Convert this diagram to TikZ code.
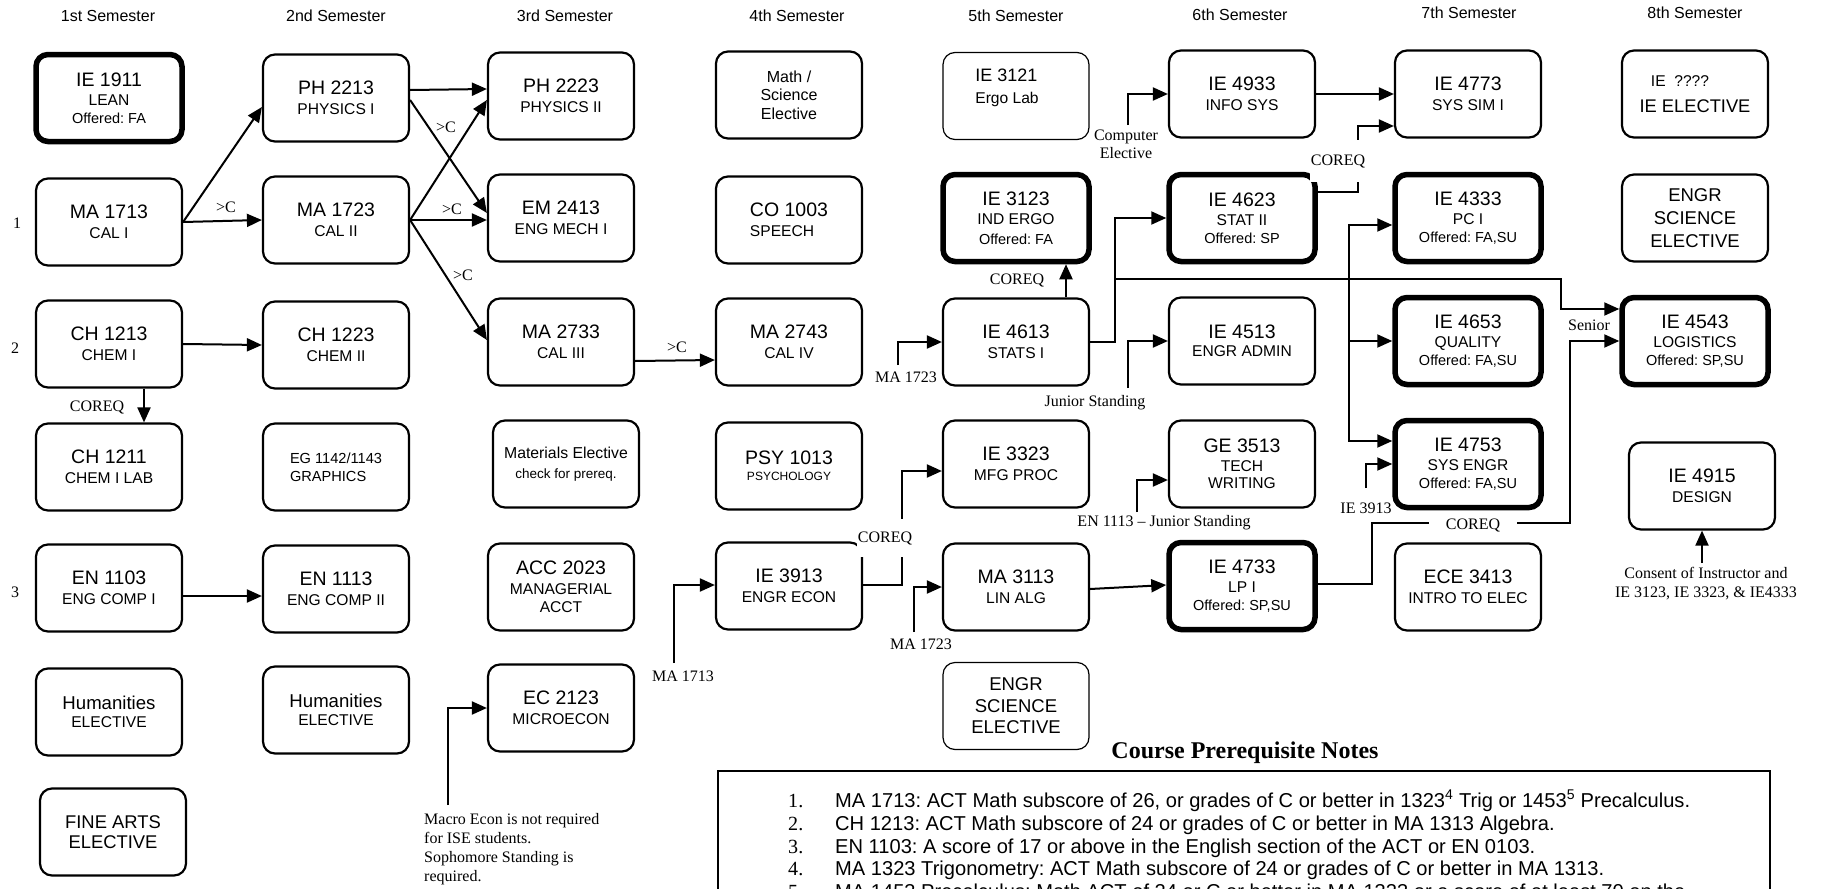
\documentclass[tikz,border=0pt]{standalone}
\usepackage{fontspec}
\setmainfont{Liberation Serif}
\setsansfont{Liberation Sans}
\usetikzlibrary{arrows.meta,calc}
\frenchspacing
\newcommand\sbt[1]{{\fontsize{15.6}{18}\selectfont #1}}
\newcommand\ofr[1]{{\fontsize{14.5}{17}\selectfont #1}}
\newcommand\fsz[1]{\fontsize{#1}{19.6}\selectfont}
\begin{document}
\begin{tikzpicture}[x=1pt,y=-1pt,
  crs/.style={draw, rounded corners=12pt, line width=2.2pt, minimum width=146pt, minimum height=87pt, inner sep=0pt, align=center, font=\sffamily\fontsize{19.5}{19.6}\selectfont},
  thk/.style={crs, line width=5.5pt},
  thn/.style={crs, line width=1.2pt},
  conn/.style={line width=2pt, -{Triangle[length=15pt,width=13pt]}},
  lbl/.style={font=\rmfamily\fontsize{16}{19}\selectfont, inner sep=1pt},
  gaplbl/.style={lbl, fill=white},
  hdr/.style={font=\sffamily\fontsize{16}{19}\selectfont, inner sep=0pt},
  ntxt/.style={font=\sffamily\fontsize{20.1}{22}\selectfont, inner sep=0pt, anchor=base west},
  nnum/.style={font=\rmfamily\fontsize{20.1}{22}\selectfont, inner sep=0pt, anchor=base west},
]
\useasboundingbox (0,0) rectangle (1824,889);
\fill[white] (0,0) rectangle (1824,889);

% ---------- semester headers ----------
\node[hdr] (h1) at (108,16) {1st Semester};
\node[hdr] (h2) at (336,16) {2nd Semester};
\node[hdr] (h3) at (565,16) {3rd Semester};
\node[hdr] (h4) at (797,16) {4th Semester};
\node[hdr] (h5) at (1016,16) {5th Semester};
\node[hdr] (h6) at (1240,14.5) {6th Semester};
\node[hdr] (h7) at (1469,13) {7th Semester};
\node[hdr] (h8) at (1695,13) {8th Semester};

% ---------- row numbers ----------
\node[lbl] (r1) at (17,223) {1};
\node[lbl] (r2) at (15,348) {2};
\node[lbl] (r3) at (15,592) {3};

% ---------- column 1 ----------
\node[thk] (ie1911) at (109,98) {IE 1911\\\sbt{LEAN}\\[-2pt]\ofr{Offered: FA}};
\node[crs] (ma1713) at (109,222) {MA 1713\\\sbt{CAL I}};
\node[crs] (ch1213) at (109,344) {CH 1213\\\sbt{CHEM I}};
\node[crs] (ch1211) at (109,467) {CH 1211\\\sbt{CHEM I LAB}};
\node[crs] (en1103) at (109,588) {EN 1103\\\sbt{ENG COMP I}};
\node[crs] (hum1) at (109,712) {\fsz{18.6}Humanities\\[-1.5pt]\sbt{ELECTIVE}};
\node[crs, font=\sffamily\fontsize{18.4}{20}\selectfont] (finearts) at (113,832) {FINE ARTS\\ELECTIVE};

% ---------- column 2 ----------
\node[crs] (ph2213) at (336,98) {PH 2213\\\sbt{PHYSICS I}};
\node[crs] (ma1723) at (336,220) {MA 1723\\\sbt{CAL II}};
\node[crs] (ch1223) at (336,345) {CH 1223\\\sbt{CHEM II}};
\node[crs, align=left, font=\sffamily\fontsize{14.6}{18}\selectfont] (eg1142) at (336,467) {EG 1142/1143\\GRAPHICS};
\node[crs] (en1113) at (336,589) {EN 1113\\\sbt{ENG COMP II}};
\node[crs] (hum2) at (336,710) {\fsz{18.6}Humanities\\[-1.5pt]\sbt{ELECTIVE}};

% ---------- column 3 ----------
\node[crs] (ph2223) at (561,96) {PH 2223\\\sbt{PHYSICS II}};
\node[crs] (em2413) at (561,218) {EM 2413\\\sbt{ENG MECH I}};
\node[crs] (ma2733) at (561,342) {MA 2733\\\sbt{CAL III}};
\node[crs] (matel) at (566,464) {\fsz{15.8}Materials Elective\\{\fontsize{13.5}{16}\selectfont check for prereq.}};
\node[crs] (acc2023) at (561,587) {ACC 2023\\\sbt{MANAGERIAL}\\[-1pt]\sbt{ACCT}};
\node[crs] (ec2123) at (561,708) {EC 2123\\\sbt{MICROECON}};

% ---------- column 4 ----------
\node[crs, font=\sffamily\fontsize{16}{18.5}\selectfont] (mathsci) at (789,95) {Math /\\Science\\Elective};
\node[crs, align=left] (co1003) at (789,220) {CO 1003\\\sbt{SPEECH}};
\node[crs] (ma2743) at (789,342) {MA 2743\\\sbt{CAL IV}};
\node[crs] (psy1013) at (789,466) {PSY 1013\\[-3.5pt]{\fontsize{12}{14}\selectfont PSYCHOLOGY}};
\node[crs] (ie3913) at (789,586) {IE 3913\\\sbt{ENGR ECON}};

% ---------- column 5 ----------
\node[thn] (ie3121) at (1016,96) {};
\node[align=left, inner sep=0pt, font=\sffamily\fontsize{18}{22}\selectfont] (ie3121t) at (1007,88) {IE 3121\\\sbt{Ergo Lab}};
\node[thk] (ie3123) at (1016,218) {IE 3123\\\sbt{IND ERGO}\\\ofr{Offered: FA}};
\node[crs] (ie4613) at (1016,342) {IE 4613\\\sbt{STATS I}};
\node[crs] (ie3323) at (1016,464) {IE 3323\\\sbt{MFG PROC}};
\node[crs] (ma3113) at (1016,587) {MA 3113\\\sbt{LIN ALG}};
\node[thn, font=\sffamily\fontsize{18.5}{21.5}\selectfont] (engrsci5) at (1016,706) {ENGR\\SCIENCE\\ELECTIVE};

% ---------- column 6 ----------
\node[crs] (ie4933) at (1242,94) {IE 4933\\\sbt{INFO SYS}};
\node[thk] (ie4623) at (1242,218) {IE 4623\\\sbt{STAT II}\\[-2pt]\ofr{Offered: SP}};
\node[crs] (ie4513) at (1242,341) {IE 4513\\[-2pt]\sbt{ENGR ADMIN}};
\node[crs] (ge3513) at (1242,464) {GE 3513\\[-1pt]\sbt{TECH}\\[-2.5pt]\sbt{WRITING}};
\node[thk] (ie4733) at (1242,586) {IE 4733\\\sbt{LP I}\\[-2pt]\ofr{Offered: SP,SU}};

% ---------- column 7 ----------
\node[crs] (ie4773) at (1468,94) {IE 4773\\\sbt{SYS SIM I}};
\node[thk] (ie4333) at (1468,218) {IE 4333\\\sbt{PC I}\\[-2pt]\ofr{Offered: FA,SU}};
\node[thk] (ie4653) at (1468,341) {IE 4653\\\sbt{QUALITY}\\[-2pt]\ofr{Offered: FA,SU}};
\node[thk] (ie4753) at (1468,464) {IE 4753\\\sbt{SYS ENGR}\\[-2pt]\ofr{Offered: FA,SU}};
\node[crs] (ece3413) at (1468,587) {ECE 3413\\\sbt{INTRO TO ELEC}};

% ---------- column 8 ----------
\node[crs] (ieelec) at (1695,94) {{\sbt{IE\ \ ????}\hspace*{30pt}}\\[6pt]\fsz{18.3}IE ELECTIVE};
\node[crs, font=\sffamily\fontsize{18.5}{23}\selectfont] (engrsci8) at (1695,218) {ENGR\\SCIENCE\\ELECTIVE};
\node[thk] (ie4543) at (1695,341) {IE 4543\\\sbt{LOGISTICS}\\[-2pt]\ofr{Offered: SP,SU}};
\node[crs] (ie4915) at (1702,486) {IE 4915\\\sbt{DESIGN}};

% ---------- free ends of connectors ----------
\coordinate (cmacro) at (448,805);
\coordinate (cma1713) at (674,663);
\coordinate (k1) at (902,530);
\coordinate (cma1723a) at (898,365);
\coordinate (cma1723b) at (914,632);
\coordinate (j1) at (1115,279);
\coordinate (j2) at (1561,309);
\coordinate (j3) at (1349,279);
\coordinate (cjunior) at (1128,388);
\coordinate (ccomp) at (1128,125);
\coordinate (k2) at (1358,160);
\coordinate (c3913) at (1366,488);
\coordinate (j4) at (1372,523);
\coordinate (j5) at (1570,523);
\coordinate (cen1113) at (1137,512);
\coordinate (cconsent) at (1702,563);

% ---------- connectors ----------
\draw[conn] (ma1713.east) -- ($(ph2213.west)+(0,9)$);
\draw[conn] (ma1713.east) -- (ma1723.west);
\draw[conn] ($(ph2213.east)+(0,-8)$) -- ($(ph2223.west)+(0,-7)$);
\draw[conn] ($(ph2213.east)+(0,2)$) -- ($(em2413.west)+(0,-5)$);
\draw[conn] (ma1723.east) -- ($(ph2223.west)+(0,4)$);
\draw[conn] (ma1723.east) -- ($(em2413.west)+(0,2)$);
\draw[conn] (ma1723.east) -- ($(ma2733.west)+(0,-2)$);
\draw[conn] (ch1213.east) -- (ch1223.west);
\draw[conn] ($(ch1213.south)+(35,0)$) -- ($(ch1211.north)+(35,0)$);
\draw[conn] ($(en1103.east)+(0,8)$) -- ($(en1113.west)+(0,7)$);
\draw[conn] ($(ma2733.east)+(0,19)$) -- ($(ma2743.west)+(0,18)$);
\draw[conn] (cmacro) |- (ec2123.west);
\draw[conn] (cma1713) |- ($(ie3913.west)+(0,-1)$);
\draw[conn] ($(ie3913.east)+(0,-1)$) -| (k1) |- ($(ie3323.west)+(0,7)$);
\draw[conn] (cma1723a) |- (ie4613.west);
\draw[conn] ($(ie4613.north)+(50,0)$) -- ($(ie3123.south)+(50,0)$);
\draw[conn] (ie4613.east) -| (j1) |- (ie4623.west);
\draw[conn] (j1) -| (j2) -- (j2 -| ie4543.west);
\draw[conn] (cjunior) |- (ie4513.west);
\draw[conn] (ccomp) |- (ie4933.west);
\draw[conn] (ie4933.east) -- (ie4773.west);
\draw[conn] ($(ie4623.east)+(0,-26)$) -| (k2) |- ($(ie4773.west)+(0,32)$);
\draw[conn] (j3) |- ($(ie4333.west)+(0,7)$);
\draw[conn] (j3) |- (ie4653.west);
\draw[conn] (j3) |- ($(ie4753.west)+(0,-23)$);
\draw[conn] (c3913) |- (ie4753.west);
\draw[conn] ($(ie4733.east)+(0,-2)$) -| (j4) -- (j5) |- (ie4543.west);
\draw[conn] ($(ma3113.east)+(0,2)$) -- ($(ie4733.west)+(0,-1)$);
\draw[conn] (cma1723b) |- (ma3113.west);
\draw[conn] (cen1113) |- ($(ge3513.west)+(0,16)$);
\draw[conn] (cconsent) -- (ie4915.south);

% ---------- connector labels ----------
\node[lbl] (gc1) at (226,207) {>C};
\node[lbl] (gc2) at (446,127) {>C};
\node[lbl] (gc3) at (452,209) {>C};
\node[lbl] (gc4) at (463,275) {>C};
\node[lbl] (gc5) at (677,347) {>C};
\node[lbl] (cq1) at (97,407) {COREQ};
\node[lbl] (cq2) at (1017,280) {COREQ};
\node[gaplbl, minimum height=38pt] (cq3) at (885,538) {COREQ};
\node[gaplbl, minimum height=42pt] (cq4) at (1338,161) {COREQ};
\node[gaplbl, minimum width=88pt] (cq5) at (1473,525) {COREQ};
\node[lbl] (lma1713) at (683,676) {MA 1713};
\node[lbl] (lma1723a) at (906,377) {MA 1723};
\node[lbl] (lma1723b) at (921,644) {MA 1723};
\node[lbl, align=center, font=\rmfamily\fontsize{16}{18}\selectfont] (lcomp) at (1126,144) {Computer\\Elective};
\node[lbl] (ljun) at (1095,403) {Junior Standing};
\node[lbl] (len) at (1164,523) {EN 1113 \textendash{} Junior Standing};
\node[lbl] (l3913) at (1366,508) {IE 3913};
\node[lbl] (lsen) at (1589,325) {Senior};
\node[lbl, align=center] (lcons) at (1706,584) {Consent of Instructor and\\IE 3123, IE 3323, \& IE4333};
\node[lbl, align=left, anchor=west] (lmacro) at (423,849.5) {Macro Econ is not required\\for ISE students.\\Sophomore Standing is\\required.};

% ---------- notes ----------
\node[font=\rmfamily\bfseries\fontsize{24}{28}\selectfont, inner sep=0pt] (ntitle) at (1245,753) {Course Prerequisite Notes};
\draw[line width=2.2pt] (718,771) rectangle (1770,1000);
\node[nnum] (n1n) at (788,807) {1.};
\node[nnum] (n2n) at (788,830) {2.};
\node[nnum] (n3n) at (788,853) {3.};
\node[nnum] (n4n) at (788,875) {4.};
\node[nnum] (n5n) at (788,898) {5.};
\node[ntxt] (n1) at (835,807) {MA 1713: ACT Math subscore of 26, or grades of C or better in 1323\textsuperscript{4} Trig or 1453\textsuperscript{5} Precalculus.};
\node[ntxt] (n2) at (835,830) {CH 1213: ACT Math subscore of 24 or grades of C or better in MA 1313 Algebra.};
\node[ntxt] (n3) at (835,853) {EN 1103: A score of 17 or above in the English section of the ACT or EN 0103.};
\node[ntxt] (n4) at (835,875) {MA 1323 Trigonometry: ACT Math subscore of 24 or grades of C or better in MA 1313.};
\node[ntxt] (n5) at (835,898) {MA 1453 Precalculus: Math ACT of 24 or C or better in MA 1323 or a score of at least 70 on the};
\end{tikzpicture}
\end{document}
